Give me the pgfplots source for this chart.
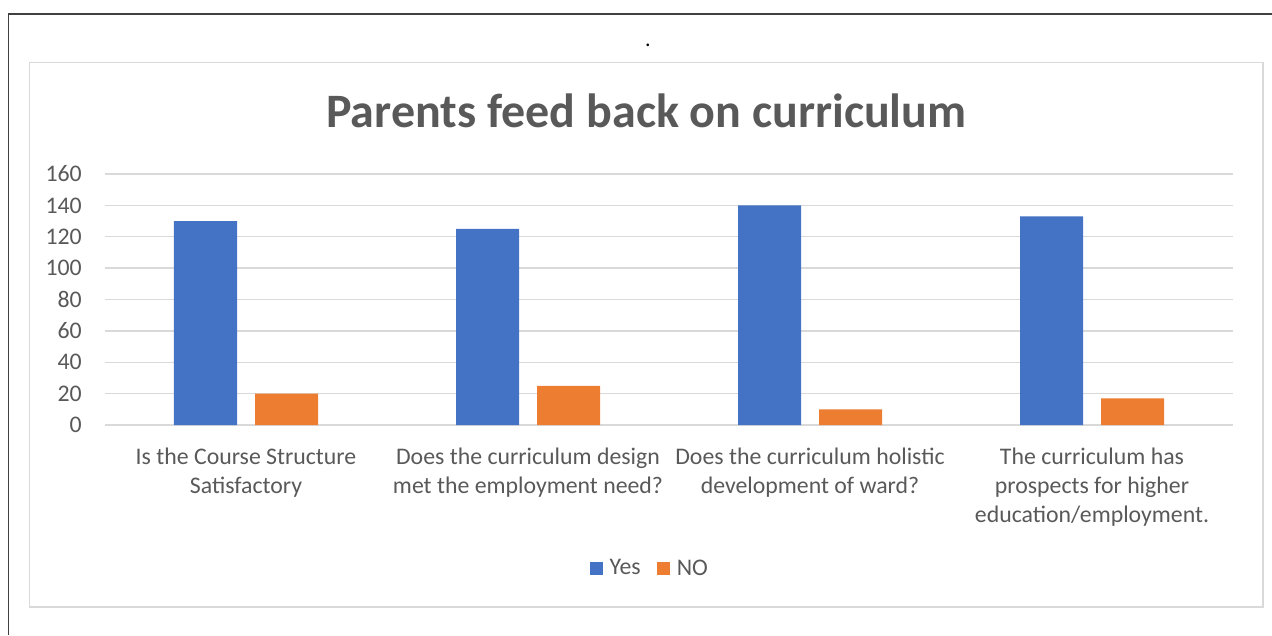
\documentclass[border=0pt]{standalone}
\usepackage{pgfplots}
\pgfplotsset{compat=1.18}
\usepackage{pgfplotstable}
\usepackage{fontspec}
\setmainfont{Carlito}

\definecolor{xlblue}{HTML}{4472C4}
\definecolor{xlorange}{HTML}{ED7D31}
\definecolor{xltext}{HTML}{595959}
\definecolor{xlgrid}{HTML}{D9D9D9}

\pgfplotstableread{
x yes no
0 130 20
1 125 25
2 140 10
3 133 17
}\feedback

\begin{document}
\begin{tikzpicture}[x=1pt,y=1pt]
\useasboundingbox (0,0) rectangle (1272,635);
% page frame and chart frame
\draw[line width=1.6pt, black!75] (8.5,0) -- (8.5,621) -- (1272,621);
\draw[line width=1.2pt, xlgrid] (29.5,28) rectangle (1263,572.5);
\node[font=\fontsize{22}{26}\selectfont] at (648,590) {.};
\node[anchor=base, text=xltext, font=\bfseries\fontsize{48}{56}\selectfont] at (646.5,507) {Parents feed back on curriculum};

\begin{axis}[
	at={(105pt,210pt)}, anchor=south west,
	scale only axis,
	width=1128pt, height=251pt,
	xmin=-0.5, xmax=3.5,
	ymin=0, ymax=160,
	ytick={0,20,...,160},
	xtick={0,1,2,3},
	xticklabels={{Is the Course Structure\\Satisfactory},
		{Does the curriculum design\\met the employment need?},
		{Does the curriculum holistic\\development of ward?},
		{The curriculum has\\prospects for higher\\education/employment.}},
	axis line style={draw=none},
	major tick length=0pt,
	ymajorgrids=true,
	grid style={xlgrid, line width=1.3pt},
	/pgf/number format/assume math mode=true,
	tick label style={text=xltext, font=\fontsize{23.8}{29}\selectfont},
	yticklabel style={anchor=east, inner sep=0pt, xshift=-23pt},
	xticklabel style={align=center, anchor=north, inner sep=0pt, yshift=-23pt},
	ybar,
	bar width=63pt,
	legend columns=2,
	legend style={at={(0.483,-0.57)}, anchor=center, draw=none, fill=none,
		font=\fontsize{23.8}{29}\selectfont, text=xltext,
		/tikz/every odd column/.append style={column sep=5pt},
		/tikz/every even column/.append style={column sep=14pt}},
	legend image code/.code={\fill[#1] (0pt,-6.5pt) rectangle (13pt,6.5pt);},
	]
	\addplot[fill=xlblue, draw=none, bar shift=-40.5pt] table[x=x, y=yes] {\feedback};
	\addplot[fill=xlorange, draw=none, bar shift=40.5pt] table[x=x, y=no] {\feedback};
	\legend{Yes, NO}
\end{axis}
\end{tikzpicture}
\end{document}
